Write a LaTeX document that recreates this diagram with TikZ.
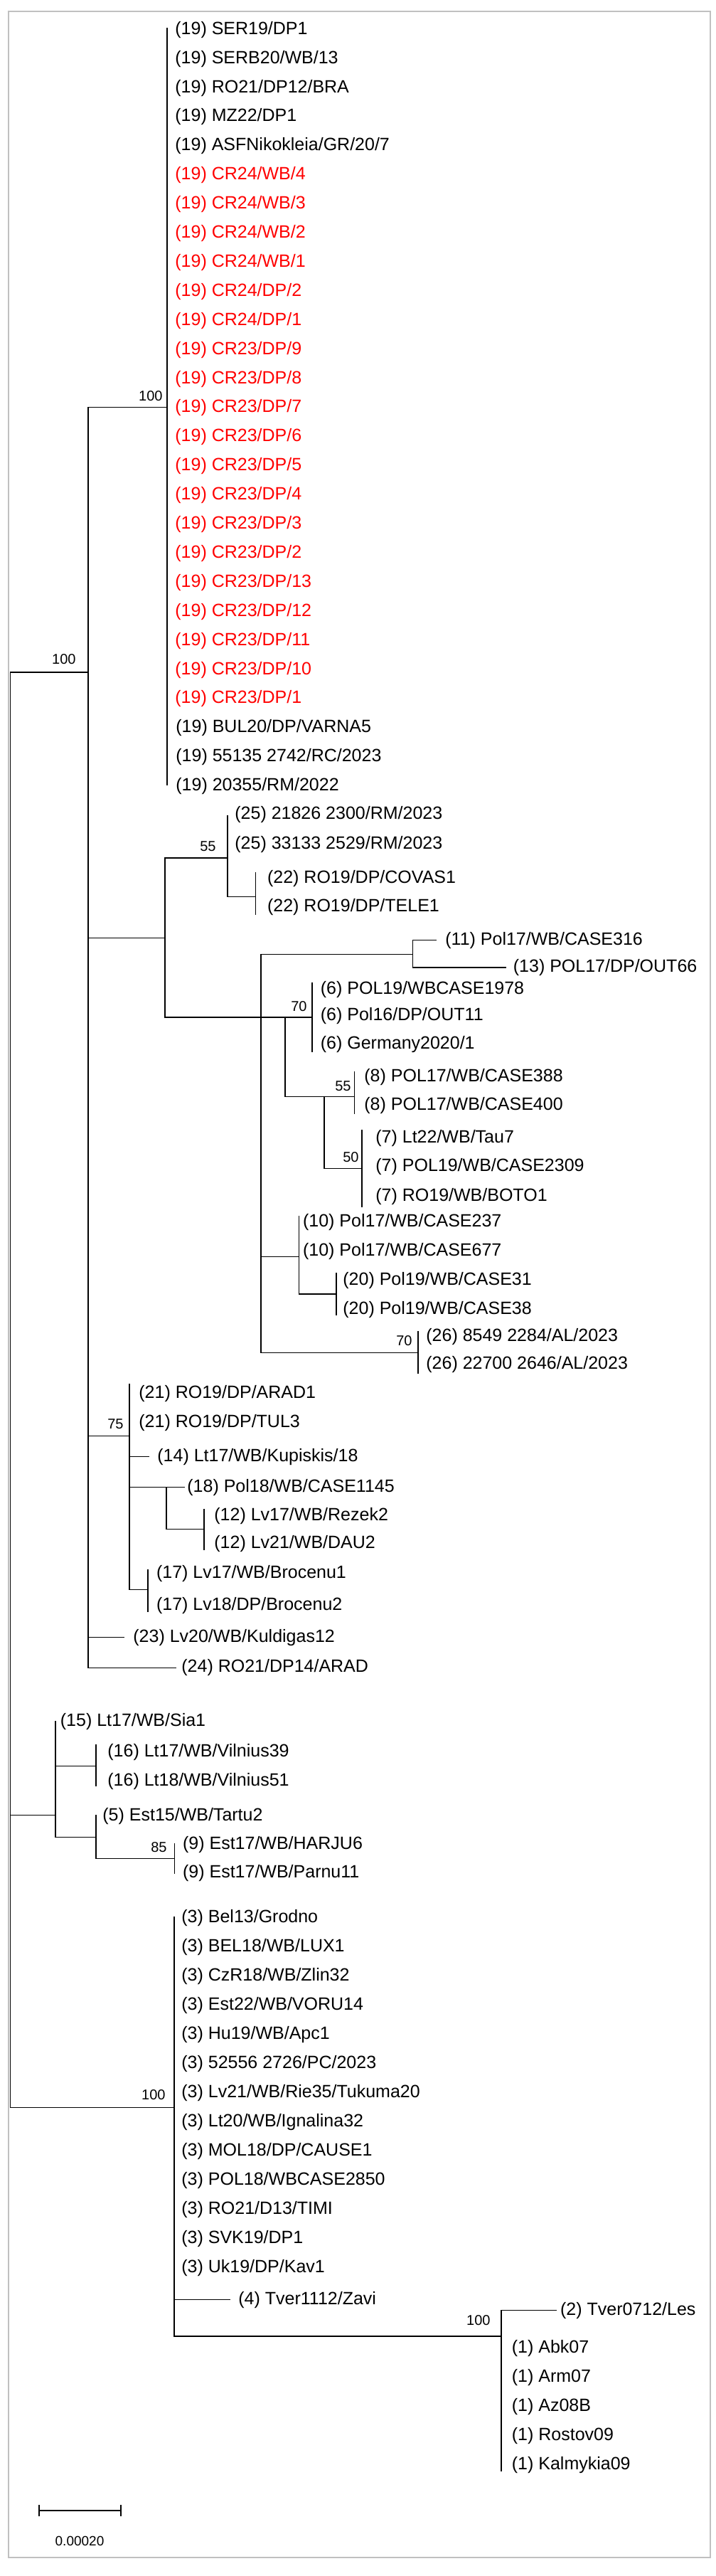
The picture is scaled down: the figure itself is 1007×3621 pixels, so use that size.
\documentclass[tikz,border=0pt]{standalone}
\usepackage{fontspec}
\setmainfont{Liberation Sans}
\usetikzlibrary{positioning}
\definecolor{framegray}{RGB}{192,192,192}
\definecolor{cladered}{RGB}{255,0,0}

\begin{document}
\begin{tikzpicture}[x=0.5pt, y=-0.5pt,
    leaf/.style={anchor=west, inner sep=0pt, font=\fontsize{12.5}{15}\selectfont, text height=9.1pt, text depth=2.6pt},
    boot/.style={anchor=east, inner sep=0pt, font=\fontsize{10}{12}\selectfont},
    branch/.style={line width=0.6pt, line cap=rect}]
    \useasboundingbox (0,0) rectangle (1007,3621);
    \draw[framegray, line width=1pt] (12,15.5) rectangle (998.5,3595);

    % internal nodes (where the parent branch comes in)
    \coordinate (root) at (14.5,945);
    \coordinate (A) at (124,945);
    \coordinate (K) at (78,2551.7);
    \coordinate (L) at (245,2962.7);
    \coordinate (n19) at (235,572.7);
    \coordinate (B) at (232,1318.3);
    \coordinate (C) at (182,2018.3);
    \coordinate (n25) at (320,1206);
    \coordinate (n22) at (359.5,1260.7);
    \coordinate (D) at (367,1430);
    \coordinate (E) at (580.5,1341.7);
    \coordinate (G) at (401,1430);
    \coordinate (F) at (439,1430);
    \coordinate (H) at (456,1541.7);
    \coordinate (n8) at (498.5,1541.7);
    \coordinate (n7) at (509,1642.7);
    \coordinate (I) at (420.5,1766.7);
    \coordinate (n20) at (473,1819);
    \coordinate (n26) at (588,1901.7);
    \coordinate (J) at (234,2090.7);
    \coordinate (n12) at (287,2149.3);
    \coordinate (n17) at (208,2234.3);
    \coordinate (n16) at (135,2482.7);
    \coordinate (P) at (135,2582.7);
    \coordinate (n9) at (245.7,2612.3);
    \coordinate (M) at (705,3284);

    % leaves, group 19
    \foreach \lab [count=\i] in {SER19/DP1, SERB20/WB/13, RO21/DP12/BRA, MZ22/DP1, ASFNikokleia/GR/20/7}
        \node[leaf] (t19-\i) at (246,{41.7+(\i-1)*40.9}) {(19) \lab};
    \foreach \lab [count=\i from 6] in {CR24/WB/4, CR24/WB/3, CR24/WB/2, CR24/WB/1, CR24/DP/2, CR24/DP/1,
        CR23/DP/9, CR23/DP/8, CR23/DP/7, CR23/DP/6, CR23/DP/5, CR23/DP/4, CR23/DP/3, CR23/DP/2,
        CR23/DP/13, CR23/DP/12, CR23/DP/11, CR23/DP/10, CR23/DP/1}
        \node[leaf, text=cladered] (t19-\i) at (246,{41.7+(\i-1)*40.9}) {(19) \lab};
    \foreach \lab [count=\i from 25] in {BUL20/DP/VARNA5, 55135 2742/RC/2023, 20355/RM/2022}
        \node[leaf] (t19-\i) at (247,{41.7+(\i-1)*40.9}) {(19) \lab};

    \node[leaf] (t25-1) at (330,1145) {(25) 21826 2300/RM/2023};
    \node[leaf] (t25-2) at (330,1186.7) {(25) 33133 2529/RM/2023};
    \node[leaf] (t22-1) at (375.7,1235) {(22) RO19/DP/COVAS1};
    \node[leaf] (t22-2) at (375.7,1275) {(22) RO19/DP/TELE1};
    \node[leaf] (t11) at (626,1321.7) {(11) Pol17/WB/CASE316};
    \node[leaf] (t13) at (721.5,1360) {(13) POL17/DP/OUT66};
    \node[leaf] (t6-1) at (450.5,1390.7) {(6) POL19/WBCASE1978};
    \node[leaf] (t6-2) at (450.5,1428.3) {(6) Pol16/DP/OUT11};
    \node[leaf] (t6-3) at (450.5,1468.3) {(6) Germany2020/1};
    \node[leaf] (t8-1) at (512,1514) {(8) POL17/WB/CASE388};
    \node[leaf] (t8-2) at (512,1554) {(8) POL17/WB/CASE400};
    \node[leaf] (t7-1) at (528,1600) {(7) Lt22/WB/Tau7};
    \node[leaf] (t7-2) at (528,1640) {(7) POL19/WB/CASE2309};
    \node[leaf] (t7-3) at (528,1681.7) {(7) RO19/WB/BOTO1};
    \node[leaf] (t10-1) at (425.7,1718.3) {(10) Pol17/WB/CASE237};
    \node[leaf] (t10-2) at (425.7,1759.3) {(10) Pol17/WB/CASE677};
    \node[leaf] (t20-1) at (482,1800) {(20) Pol19/WB/CASE31};
    \node[leaf] (t20-2) at (482,1840.7) {(20) Pol19/WB/CASE38};
    \node[leaf] (t26-1) at (599,1879.3) {(26) 8549 2284/AL/2023};
    \node[leaf] (t26-2) at (599,1918.3) {(26) 22700 2646/AL/2023};
    \node[leaf] (t21-1) at (195,1959.3) {(21) RO19/DP/ARAD1};
    \node[leaf] (t21-2) at (195,2000) {(21) RO19/DP/TUL3};
    \node[leaf] (t14) at (221,2047.7) {(14) Lt17/WB/Kupiskis/18};
    \node[leaf] (t18) at (263,2090.7) {(18) Pol18/WB/CASE1145};
    \node[leaf] (t12-1) at (301,2131) {(12) Lv17/WB/Rezek2};
    \node[leaf] (t12-2) at (301,2170) {(12) Lv21/WB/DAU2};
    \node[leaf] (t17-1) at (219.7,2211.7) {(17) Lv17/WB/Brocenu1};
    \node[leaf] (t17-2) at (219.7,2256.7) {(17) Lv18/DP/Brocenu2};
    \node[leaf] (t23) at (187,2301.7) {(23) Lv20/WB/Kuldigas12};
    \node[leaf] (t24) at (255,2344.3) {(24) RO21/DP14/ARAD};
    \node[leaf] (t15) at (84.5,2420) {(15) Lt17/WB/Sia1};
    \node[leaf] (t16-1) at (151,2463.3) {(16) Lt17/WB/Vilnius39};
    \node[leaf] (t16-2) at (151,2504) {(16) Lt18/WB/Vilnius51};
    \node[leaf] (t5) at (144,2552.7) {(5) Est15/WB/Tartu2};
    \node[leaf] (t9-1) at (256.7,2593.3) {(9) Est17/WB/HARJU6};
    \node[leaf] (t9-2) at (256.7,2633.3) {(9) Est17/WB/Parnu11};
    \foreach \lab [count=\i] in {Bel13/Grodno, BEL18/WB/LUX1, CzR18/WB/Zlin32, Est22/WB/VORU14, Hu19/WB/Apc1,
        52556 2726/PC/2023, Lv21/WB/Rie35/Tukuma20, Lt20/WB/Ignalina32, MOL18/DP/CAUSE1, POL18/WBCASE2850,
        RO21/D13/TIMI, SVK19/DP1, Uk19/DP/Kav1}
        \node[leaf] (t3-\i) at (255,{2696+(\i-1)*41}) {(3) \lab};
    \node[leaf] (t4) at (335,3232.7) {(4) Tver1112/Zavi};
    \node[leaf] (t2) at (787.7,3247.7) {(2) Tver0712/Les};
    \foreach \lab [count=\i] in {Abk07, Arm07, Az08B, Rostov09, Kalmykia09}
        \node[leaf] (t1-\i) at (719.5,{3301+(\i-1)*40.9}) {(1) \lab};

    % vertical bars of the internal nodes
    \draw[branch] (14.5,945) -- (14.5,2962.7);
    \draw[branch] (124,572.7) -- (124,2344.3);
    \draw[branch] (235,40) -- (235,1103.3);
    \draw[branch] (232,1206) -- (232,1430);
    \draw[branch] (320,1146.7) -- (320,1260.7);
    \draw[branch] (359.5,1226.7) -- (359.5,1285);
    \draw[branch] (367,1341.7) -- (367,1901.7);
    \draw[branch] (580.5,1321.7) -- (580.5,1360);
    \draw[branch] (401,1430) -- (401,1541.7);
    \draw[branch] (439,1381.7) -- (439,1478.3);
    \draw[branch] (456,1541.7) -- (456,1642.7);
    \draw[branch] (498.5,1506.7) -- (498.5,1565);
    \draw[branch] (509,1588.3) -- (509,1696.7);
    \draw[branch] (420.5,1709.3) -- (420.5,1819);
    \draw[branch] (473,1790) -- (473,1848.3);
    \draw[branch] (588,1871.7) -- (588,1930);
    \draw[branch] (182,1945.7) -- (182,2234.3);
    \draw[branch] (234,2090.7) -- (234,2149.3);
    \draw[branch] (287,2121.7) -- (287,2178.3);
    \draw[branch] (208,2206.7) -- (208,2265);
    \draw[branch] (78,2420) -- (78,2582.7);
    \draw[branch] (135,2452.7) -- (135,2510);
    \draw[branch] (135,2551.7) -- (135,2612.3);
    \draw[branch] (245.7,2591.7) -- (245.7,2633.3);
    \draw[branch] (245,2695) -- (245,3284);
    \draw[branch] (705,3247.7) -- (705,3473.3);

    % branches
    \draw[branch] (root |- A) -- (A);
    \draw[branch] (root |- K) -- (K);
    \draw[branch] (root |- L) -- (L);
    \draw[branch] (A |- n19) -- (n19);
    \draw[branch] (A |- B) -- (B);
    \draw[branch] (A |- C) -- (C);
    \draw[branch] (A |- t23) -- ([xshift=-6.5pt]t23.west);
    \draw[branch] (A |- t24) -- ([xshift=-4pt]t24.west);
    \draw[branch] (B |- n25) -- (n25);
    \draw[branch] (B |- D) -- (D);
    \draw[branch] (n25 |- n22) -- (n22);
    \draw[branch] (D |- E) -- (E);
    \draw[branch] (E |- t11) -- ([xshift=-6.5pt]t11.west);
    \draw[branch] (E |- t13) -- ([xshift=-5pt]t13.west);
    \draw[branch] (D |- G) -- (G);
    \draw[branch] (G |- F) -- (F);
    \draw[branch] (G |- H) -- (H);
    \draw[branch] (H |- n8) -- (n8);
    \draw[branch] (H |- n7) -- (n7);
    \draw[branch] (D |- I) -- (I);
    \draw[branch] (I |- n20) -- (n20);
    \draw[branch] (D |- n26) -- (n26);
    \draw[branch] (C |- t14) -- ([xshift=-6pt]t14.west);
    \draw[branch] (C |- J) -- (J);
    \draw[branch] (J |- t18) -- ([xshift=-2pt]t18.west);
    \draw[branch] (J |- n12) -- (n12);
    \draw[branch] (C |- n17) -- (n17);
    \draw[branch] (K |- n16) -- (n16);
    \draw[branch] (K |- P) -- (P);
    \draw[branch] (P |- n9) -- (n9);
    \draw[branch] (L |- t4) -- ([xshift=-6pt]t4.west);
    \draw[branch] (L |- M) -- (M);
    \draw[branch] (M |- t2) -- ([xshift=-2.5pt]t2.west);

    % bootstrap values
    \node[boot] (bA) at (107,926.7) {100};
    \node[boot] (b19) at (229,556.7) {100};
    \node[boot] (b25) at (304,1189.3) {55};
    \node[boot] (b6) at (432,1414.3) {70};
    \node[boot] (b8) at (494,1526.7) {55};
    \node[boot] (b7) at (505,1626.7) {50};
    \node[boot] (b26) at (580,1885) {70};
    \node[boot] (bC) at (174,2001.7) {75};
    \node[boot] (b9) at (235,2596.7) {85};
    \node[boot] (bL) at (233,2945) {100};
    \node[boot] (bM) at (690,3261.7) {100};

    % scale bar
    \coordinate (sbl) at (55,3529);
    \coordinate (sbr) at (170,3529);
    \draw[branch] (sbl) -- (sbr);
    \draw[branch] ([yshift=3.6pt]sbl) -- ([yshift=-3.6pt]sbl);
    \draw[branch] ([yshift=3.6pt]sbr) -- ([yshift=-3.6pt]sbr);
    \node[inner sep=0pt, font=\fontsize{9.5}{11}\selectfont] (scale) at (112,3571.7) {0.00020};
\end{tikzpicture}
\end{document}
